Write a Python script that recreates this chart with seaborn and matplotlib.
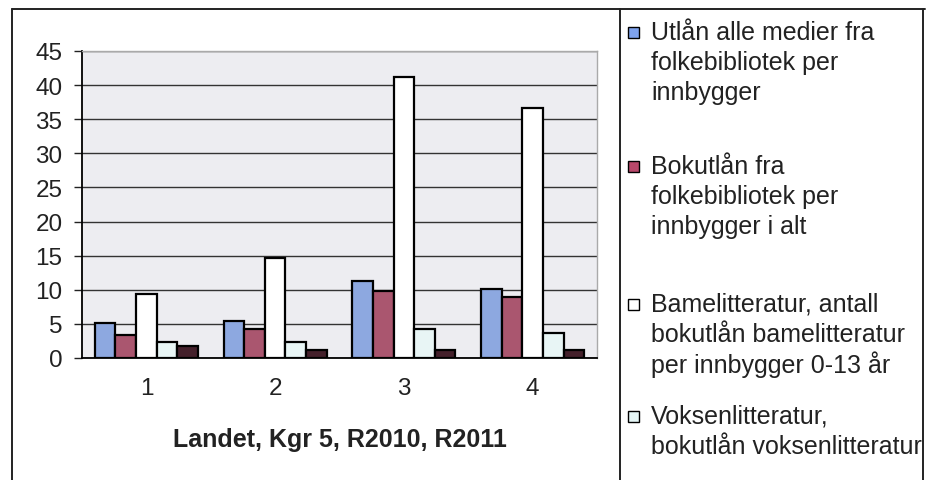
import numpy as np
import pandas as pd
import matplotlib.pyplot as plt
import seaborn as sns
from matplotlib.patches import Rectangle
from matplotlib.lines import Line2D

# Data
groups = ['1', '2', '3', '4']
series = [
    'Utlån alle medier fra folkebibliotek per innbygger',
    'Bokutlån fra folkebibliotek per innbygger i alt',
    'Barnelitteratur, antall bokutlån barnelitteratur per innbygger 0-13 år',
    'Voksenlitteratur, bokutlån voksenlitteratur',
    'Annet',
]
utlan_alle = [5.1, 5.4, 11.3, 10.1]
bokutlan = [3.3, 4.3, 9.8, 8.9]
barnelitt = [9.4, 14.7, 41.2, 36.7]
voksenlitt = [2.3, 2.3, 4.3, 3.7]
annet = [1.8, 1.2, 1.2, 1.2]

legend_lines = [
    ['Utlån alle medier fra', 'folkebibliotek per', 'innbygger'],
    ['Bokutlån fra', 'folkebibliotek per', 'innbygger i alt'],
    ['Bamelitteratur, antall', 'bokutlån bamelitteratur', 'per innbygger 0-13 år'],
    ['Voksenlitteratur,', 'bokutlån voksenlitteratur'],
]
colors = ['#7fa3ee', '#b8486a', '#ffffff', '#e6f7f7', '#4a1a28']

df = pd.DataFrame({
    'gruppe': groups * 5,
    'serie': np.repeat(series, 4),
    'verdi': utlan_alle + bokutlan + barnelitt + voksenlitt + annet,
})

sns.set_style('white')
plt.rcParams['font.family'] = ['Liberation Sans', 'DejaVu Sans']

W, H = 927, 481
fig = plt.figure(figsize=(W / 100, H / 100), dpi=100)
ax = fig.add_axes([82 / W, 1 - 359 / H, (597 - 82) / W, (359 - 52) / H])
ax.set_facecolor('#ededf1')

sns.barplot(data=df, x='gruppe', y='verdi', hue='serie', order=groups,
            hue_order=series, palette=colors, edgecolor='black', linewidth=1.6,
            width=0.8, gap=0, ax=ax, legend=False)

ax.set_ylim(0, 45)
ax.set_yticks(range(0, 46, 5))
ax.yaxis.grid(True, color='#333333', linewidth=1.0)
ax.set_axisbelow(True)
ax.tick_params(axis='y', labelsize=17.5, length=6, width=1, direction='out',
               left=True, pad=8, colors='#222222')
ax.tick_params(axis='x', labelsize=17.5, length=0, pad=14, colors='#222222')
ax.set_ylabel('')
ax.set_xlabel('Landet, Kgr 5, R2010, R2011', fontsize=18, fontweight='bold',
              color='#222222', labelpad=20)
for side in ['left', 'bottom']:
    ax.spines[side].set_color('black')
    ax.spines[side].set_linewidth(1.3)
for side in ['top', 'right']:
    ax.spines[side].set_color('#aaaaaa')
    ax.spines[side].set_linewidth(1.0)


def px(x, y):
    return x / W, 1 - y / H


# outer frame and legend divider
for (x0, y0), (x1, y1) in [((12, 10), (12, 481)), ((12, 10), (925, 10)),
                           ((923, 10), (923, 481)), ((620, 10), (620, 481))]:
    a, b = px(x0, y0)
    c, d = px(x1, y1)
    fig.add_artist(Line2D([a, c], [b, d], color='#222222', linewidth=1.4))

# legend
entry_tops = [33, 167, 305, 417]
for lines, top, col in zip(legend_lines, entry_tops, colors):
    sx, sy = px(628, top + 6)
    fig.add_artist(Rectangle((sx, sy), 11 / W, 11 / H, facecolor=col,
                             edgecolor='black', linewidth=1.0,
                             transform=fig.transFigure))
    for i, line in enumerate(lines):
        tx, ty = px(651, top + i * 30)
        fig.text(tx, ty, line, fontsize=18, color='#222222', va='center',
                 ha='left')

fig.savefig('out.png', dpi=100, facecolor='white')
